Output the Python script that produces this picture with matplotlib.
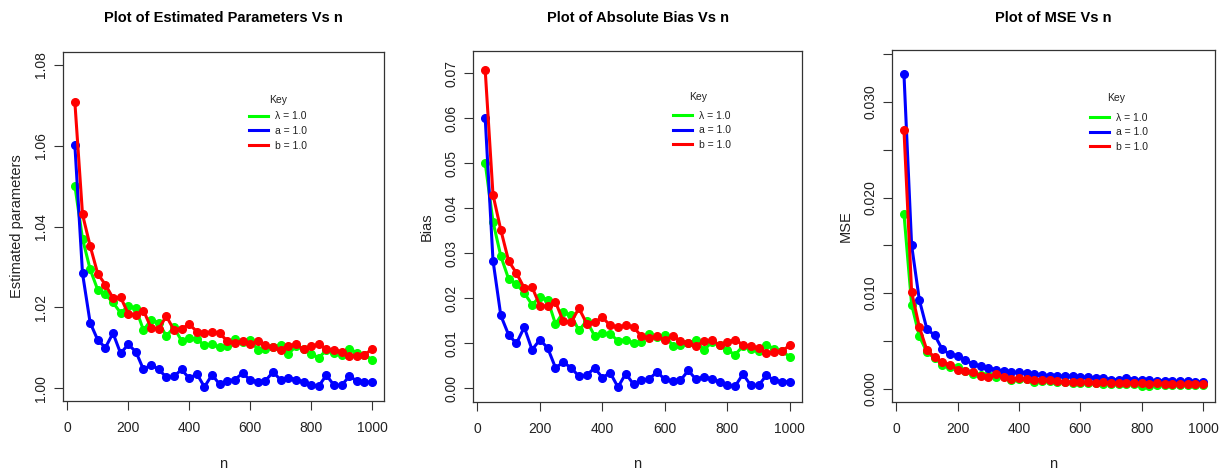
import matplotlib
matplotlib.use('Agg')
import matplotlib.pyplot as plt
from matplotlib.lines import Line2D

plt.rcParams['font.family'] = ['Liberation Sans Narrow', 'Liberation Sans', 'DejaVu Sans']

n = [25, 50, 75, 100, 125, 150, 175, 200, 225, 250, 275, 300, 325, 350, 375, 400,
     425, 450, 475, 500, 525, 550, 575, 600, 625, 650, 675, 700, 725, 750, 775, 800,
     825, 850, 875, 900, 925, 950, 975, 1000]

# Estimated parameters
est_lambda = [1.0501, 1.0370, 1.0294, 1.0243, 1.0232, 1.0212, 1.0186, 1.0203, 1.0197, 1.0143,
              1.0169, 1.0162, 1.0129, 1.0150, 1.0117, 1.0123, 1.0121, 1.0106, 1.0108, 1.0101,
              1.0103, 1.0122, 1.0114, 1.0119, 1.0095, 1.0097, 1.0101, 1.0107, 1.0085, 1.0103,
              1.0097, 1.0085, 1.0075, 1.0094, 1.0088, 1.0083, 1.0097, 1.0088, 1.0083, 1.0070]
est_a = [1.0601, 1.0284, 1.0162, 1.0119, 1.0100, 1.0136, 1.0086, 1.0108, 1.0090, 1.0046,
         1.0058, 1.0046, 1.0027, 1.0029, 1.0046, 1.0024, 1.0035, 1.0003, 1.0033, 1.0009,
         1.0018, 1.0021, 1.0037, 1.0020, 1.0016, 1.0018, 1.0040, 1.0020, 1.0026, 1.0021,
         1.0015, 1.0007, 1.0005, 1.0032, 1.0007, 1.0007, 1.0029, 1.0018, 1.0015, 1.0015]
est_b = [1.0707, 1.0430, 1.0352, 1.0283, 1.0256, 1.0223, 1.0225, 1.0184, 1.0182, 1.0192,
         1.0149, 1.0147, 1.0178, 1.0144, 1.0147, 1.0158, 1.0140, 1.0136, 1.0140, 1.0136,
         1.0116, 1.0111, 1.0116, 1.0108, 1.0116, 1.0106, 1.0101, 1.0094, 1.0105, 1.0108,
         1.0096, 1.0103, 1.0108, 1.0097, 1.0094, 1.0090, 1.0079, 1.0080, 1.0083, 1.0096]

# Absolute bias
bias_lambda = [0.0501, 0.0370, 0.0294, 0.0243, 0.0232, 0.0212, 0.0186, 0.0203, 0.0197, 0.0143,
               0.0169, 0.0162, 0.0129, 0.0150, 0.0117, 0.0123, 0.0121, 0.0106, 0.0108, 0.0101,
               0.0103, 0.0122, 0.0114, 0.0119, 0.0095, 0.0097, 0.0101, 0.0107, 0.0085, 0.0103,
               0.0097, 0.0085, 0.0075, 0.0094, 0.0088, 0.0083, 0.0097, 0.0088, 0.0083, 0.0070]
bias_a = [0.0601, 0.0284, 0.0162, 0.0119, 0.0100, 0.0136, 0.0086, 0.0108, 0.0090, 0.0046,
          0.0058, 0.0046, 0.0027, 0.0029, 0.0046, 0.0024, 0.0035, 0.0003, 0.0033, 0.0009,
          0.0018, 0.0021, 0.0037, 0.0020, 0.0016, 0.0018, 0.0040, 0.0020, 0.0026, 0.0021,
          0.0015, 0.0007, 0.0005, 0.0032, 0.0007, 0.0007, 0.0029, 0.0018, 0.0015, 0.0015]
bias_b = [0.0707, 0.0430, 0.0352, 0.0283, 0.0256, 0.0223, 0.0225, 0.0184, 0.0182, 0.0192,
          0.0149, 0.0147, 0.0178, 0.0144, 0.0147, 0.0158, 0.0140, 0.0136, 0.0140, 0.0136,
          0.0116, 0.0111, 0.0116, 0.0108, 0.0116, 0.0106, 0.0101, 0.0094, 0.0105, 0.0108,
          0.0096, 0.0103, 0.0108, 0.0097, 0.0094, 0.0090, 0.0079, 0.0080, 0.0083, 0.0096]

# MSE
mse_lambda = [0.0183, 0.0088, 0.0055, 0.0038, 0.0032, 0.0025, 0.0023, 0.0023, 0.0018, 0.00153,
              0.00146, 0.00140, 0.00120, 0.00146, 0.00094, 0.00100, 0.00098, 0.00070, 0.00085, 0.00075,
              0.00070, 0.00065, 0.00062, 0.00060, 0.00058, 0.00055, 0.00053, 0.00050, 0.00052, 0.00048,
              0.00045, 0.00028, 0.00030, 0.00042, 0.00040, 0.00038, 0.00040, 0.00036, 0.00035, 0.00033]
mse_a = [0.0329, 0.0150, 0.0093, 0.0062, 0.0056, 0.0041, 0.0036, 0.00345, 0.0030, 0.00258,
         0.00233, 0.00216, 0.00199, 0.00181, 0.00171, 0.00171, 0.00164, 0.00153, 0.00146, 0.00136,
         0.00136, 0.00129, 0.00136, 0.00122, 0.00122, 0.00111, 0.00111, 0.00094, 0.00094, 0.00115,
         0.00094, 0.00087, 0.00087, 0.00084, 0.00084, 0.00077, 0.00077, 0.00077, 0.00070, 0.00070]
mse_b = [0.0271, 0.0101, 0.00645, 0.0040, 0.0033, 0.00275, 0.0025, 0.0020, 0.00181, 0.00171,
         0.00136, 0.00122, 0.00153, 0.00122, 0.00101, 0.00111, 0.00101, 0.00094, 0.00094, 0.00087,
         0.00077, 0.00070, 0.00070, 0.00070, 0.00068, 0.00062, 0.00066, 0.00058, 0.00060, 0.00062,
         0.00055, 0.00058, 0.00052, 0.00055, 0.00050, 0.00048, 0.00050, 0.00045, 0.00047, 0.00045]

labels = ['\u03bb = 1.0', 'a = 1.0', 'b = 1.0']
colors = ['#00FF00', '#0000FF', '#FF0000']
titles = ['Plot of Estimated Parameters Vs n', 'Plot of Absolute Bias Vs n', 'Plot of MSE Vs n']
ylabels = ['Estimated parameters', 'Bias', 'MSE']
xticks = [0, 200, 400, 600, 800, 1000]

W, H = 1222, 473
fig = plt.figure(figsize=(W / 100, H / 100), dpi=100)

# panel boxes in pixels: left, right, top, bottom
boxes = [(63, 384, 52, 401), (473, 802, 51, 402), (892, 1215, 50, 402)]
legend_anchor = [(0.579, 0.830), (0.608, 0.830), (0.613, 0.822)]
key_pos = [(0.670, 0.862), (0.684, 0.869), (0.693, 0.864)]

panels = [
    ([est_lambda, est_a, est_b], (0.9968, 1.0832),
     [1.00, 1.02, 1.04, 1.06, 1.08], ['1.00', '1.02', '1.04', '1.06', '1.08']),
    ([bias_lambda, bias_a, bias_b], (-0.0030, 0.0749),
     [0.00, 0.01, 0.02, 0.03, 0.04, 0.05, 0.06, 0.07],
     ['0.00', '0.01', '0.02', '0.03', '0.04', '0.05', '0.06', '0.07']),
    ([mse_lambda, mse_a, mse_b], (-0.0014, 0.03544),
     [0.000, 0.005, 0.010, 0.015, 0.020, 0.025, 0.030, 0.035],
     ['0.000', '', '0.010', '', '0.020', '', '0.030', '']),
]

text_col = '#222222'
for i, (series, ylim, yt, ytl) in enumerate(panels):
    l, r, t, b = boxes[i]
    ax = fig.add_axes([l / W, (H - b) / H, (r - l) / W, (b - t) / H])
    for s, c in zip(series, colors):
        ax.plot(n, s, color=c, lw=2.2, marker='o', ms=5.5, mec=c, mew=1.0)
    ax.set_xlim(-14, 1039)
    ax.set_ylim(*ylim)
    ax.set_xticks(xticks)
    ax.set_xticklabels([str(v) for v in xticks])
    ax.set_yticks(yt)
    ax.set_yticklabels(ytl, rotation=90, va='center')
    ax.tick_params(direction='out', length=6.5, width=0.8, colors='#333333',
                   labelcolor=text_col, labelsize=10)
    ax.tick_params(axis='x', pad=8)
    ax.tick_params(axis='y', pad=4)
    for sp in ax.spines.values():
        sp.set_linewidth(0.9)
        sp.set_color('#333333')
    cx = (l + r) / 2
    fig.text(cx / W, 1 - 18 / H, titles[i], ha='center', va='center',
             fontsize=10.5, fontweight='bold', color='black')
    fig.text(cx / W, 1 - 464 / H, 'n', ha='center', va='center', fontsize=10.5, color=text_col)
    fig.text(17 / W + (l - 63) / W, 1 - ((t + b) / 2) / H, ylabels[i], ha='center', va='center',
             rotation=90, fontsize=10.5, color=text_col)
    handles = [Line2D([], [], color=c, lw=2.2) for c in colors]
    leg = ax.legend(handles, labels, loc='upper left',
                    bbox_to_anchor=legend_anchor[i], frameon=False, fontsize=7.5,
                    borderpad=0, borderaxespad=0,
                    handlelength=1.8, handletextpad=0.7, labelspacing=0.45)
    for txt in leg.get_texts():
        txt.set_color(text_col)
    ax.text(key_pos[i][0], key_pos[i][1], 'Key', transform=ax.transAxes,
            ha='center', va='center', fontsize=7.5, color=text_col)

fig.savefig('out.png', dpi=100)
